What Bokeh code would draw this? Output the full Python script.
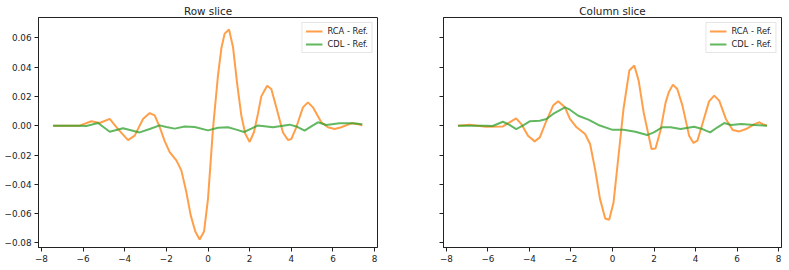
from bokeh.plotting import figure
from bokeh.layouts import row
from bokeh.models import Range1d, FixedTicker, CustomJSTickFormatter
from bokeh.embed import file_html
from bokeh.resources import INLINE

# ---- data ----
row_rca_x = [-7.44, -6.16, -5.6, -5.2, -4.72, -4.32, -3.84, -3.52, -3.12, -2.8, -2.56, -2.32, -2.08, -1.84,
             -1.52, -1.28, -1.04, -0.83, -0.61, -0.40, -0.19, 0.0, 0.24, 0.48, 0.64, 0.80, 1.01, 1.20, 1.41,
             1.60, 1.79, 2.0, 2.21, 2.40, 2.56, 2.84, 3.04, 3.28, 3.6, 3.84, 4.0, 4.24, 4.56, 4.8, 5.04, 5.44,
             5.76, 6.08, 6.4, 6.88, 7.2, 7.41]
row_rca_y = [0, 0, 0.003, 0.0018, 0.0046, -0.0023, -0.0098, -0.0068, 0.0046, 0.0086, 0.007, -0.0009, -0.0105,
             -0.018, -0.0237, -0.0305, -0.0453, -0.0612, -0.0722, -0.0777, -0.0722, -0.0499, -0.002, 0.0344,
             0.0526, 0.0628, 0.0656, 0.0537, 0.0275, 0.007, -0.0055, -0.0111, -0.0043, 0.0082, 0.0200, 0.0273,
             0.025, 0.0125, -0.0046, -0.0098, -0.0091, -0.0011, 0.0125, 0.0159, 0.0125, 0.0023, -0.0011,
             -0.0023, -0.0011, 0.0016, 0.0011, 0]

row_cdl_x = [-7.44, -6.2, -5.84, -5.28, -4.72, -4.08, -3.28, -2.8, -2.32, -2.0, -1.6, -1.12, -0.64, 0.0, 0.48,
             0.96, 1.36, 1.73, 2.08, 2.40, 3.12, 3.92, 4.24, 4.64, 4.96, 5.28, 5.68, 6.32, 6.96, 7.41]
row_cdl_y = [0, 0, -0.0002, 0.0018, -0.0041, -0.0018, -0.0046, -0.0023, 0.0002, -0.0009, -0.002, -0.0005,
             -0.0009, -0.0032, -0.0014, -0.0011, -0.0027, -0.0043, -0.002, 0.0002, -0.0011, 0.0007, -0.0005,
             -0.0034, -0.0005, 0.0023, 0.0005, 0.0016, 0.0016, 0.0009]

col_rca_x = [-7.44, -6.9, -6.09, -5.28, -4.96, -4.64, -4.39, -4.07, -3.75, -3.5, -3.18, -2.86, -2.62, -2.29,
             -2.05, -1.73, -1.32, -1.08, -0.84, -0.6, -0.35, -0.16, 0.05, 0.29, 0.53, 0.81, 1.05, 1.26, 1.5,
             1.88, 2.07, 2.31, 2.56, 2.71, 2.91, 3.12, 3.37, 3.69, 3.9, 4.09, 4.33, 4.65, 4.9, 5.14, 5.46, 5.79,
             6.11, 6.43, 6.84, 7.08, 7.24, 7.44]
col_rca_y = [0, 0.0007, -0.0007, -0.0005, 0.0023, 0.005, 0.0011, -0.0068, -0.0107, -0.008, 0.0034, 0.0137,
             0.0166, 0.0125, 0.0046, -0.0011, -0.0057, -0.0125, -0.0296, -0.0501, -0.0633, -0.0642, -0.0524,
             -0.0205, 0.0114, 0.0376, 0.041, 0.0307, 0.0091, -0.0159, -0.0155, -0.0034, 0.0159, 0.0228, 0.028,
             0.025, 0.0137, -0.0068, -0.0118, -0.0102, 0.0011, 0.0166, 0.0205, 0.0171, 0.0046, -0.0029, -0.0039,
             -0.0023, 0.0011, 0.0023, 0.0011, 0]

col_cdl_x = [-7.44, -6.1, -5.77, -5.28, -4.96, -4.64, -4.32, -3.99, -3.5, -3.18, -2.86, -2.29, -2.05, -1.65,
             -1.16, -0.68, -0.03, 0.53, 1.1, 1.67, 1.99, 2.39, 2.8, 3.28, 3.93, 4.33, 4.7, 5.06, 5.38, 5.71,
             6.19, 6.84, 7.44]
col_cdl_y = [0, 0, -0.0002, 0.0027, 0.0005, -0.0023, 0, 0.003, 0.0034, 0.0046, 0.008, 0.0125, 0.0109, 0.0068,
             0.0041, 0.0005, -0.0027, -0.0027, -0.0041, -0.0064, -0.0046, -0.0011, -0.0011, -0.0023, -0.0007,
             -0.0023, -0.0046, -0.0011, 0.0018, 0.0005, 0.0011, 0.0005, 0]

titles = ["Row slice", "Column slice"]
series_labels = ["RCA - Ref.", "CDL - Ref."]
x_ticks = [-8, -6, -4, -2, 0, 2, 4, 6, 8]
y_ticks = [-0.08, -0.06, -0.04, -0.02, 0.0, 0.02, 0.04, 0.06]

ORANGE = "#ff7f0e"
GREEN = "#2ca02c"
FONT = "DejaVu Sans"
Y0, Y1 = -0.0831, 0.0738
X0, X1 = -8.14, 8.14

xfmt = CustomJSTickFormatter(code="return (tick < 0 ? '\u2212' : '') + Math.abs(tick).toFixed(0);")
yfmt = CustomJSTickFormatter(code="if (Math.abs(tick) < 1e-9) return '0.00'; return (tick < 0 ? '\u2212' : '') + Math.abs(tick).toFixed(2);")
nofmt = CustomJSTickFormatter(code="return '';")


def make_panel(title, rx, ry, cx, cy, width, bl, br, show_ylabels):
    p = figure(width=width, height=268, output_backend="svg", toolbar_location=None,
               x_range=Range1d(X0, X1), y_range=Range1d(Y0, Y1), title=title,
               min_border_left=bl, min_border_right=br, min_border_top=17, min_border_bottom=21)
    p.grid.visible = False
    p.background_fill_color = "white"
    p.border_fill_color = "white"
    p.outline_line_color = "#222222"
    p.outline_line_width = 1
    p.outline_line_alpha = 1

    p.title.align = "center"
    p.title.text_font = FONT
    p.title.text_font_size = "10.4px"
    p.title.text_font_style = "normal"
    p.title.text_color = "#222222"
    p.title.standoff = 1
    p.title.offset = 0

    p.line(rx, ry, line_color=ORANGE, line_alpha=0.75, line_width=2, legend_label=series_labels[0])
    p.line(cx, cy, line_color=GREEN, line_alpha=0.75, line_width=2, legend_label=series_labels[1])

    for ax in (p.xaxis[0], p.yaxis[0]):
        ax.axis_line_color = "#222222"
        ax.major_tick_line_color = "#222222"
        ax.major_tick_out = 4
        ax.major_tick_in = 0
        ax.minor_tick_line_color = None
        ax.major_label_text_font = FONT
        ax.major_label_text_font_size = "8.8px"
        ax.major_label_text_color = "#222222"
        ax.major_label_standoff = 3
    p.xaxis[0].ticker = FixedTicker(ticks=x_ticks)
    p.yaxis[0].ticker = FixedTicker(ticks=y_ticks)
    p.xaxis[0].formatter = xfmt
    p.yaxis[0].formatter = yfmt if show_ylabels else nofmt

    lg = p.legend[0]
    lg.location = "top_right"
    lg.margin = 5
    lg.padding = 3
    lg.spacing = 3
    lg.label_height = 10
    lg.glyph_height = 10
    lg.glyph_width = 17
    lg.label_standoff = 5
    lg.label_text_font = FONT
    lg.label_text_font_size = "8.3px"
    lg.label_text_color = "#222222"
    lg.border_line_color = "#cccccc"
    lg.border_line_width = 1
    lg.background_fill_alpha = 0.8
    return p


p1 = make_panel(titles[0], row_rca_x, row_rca_y, row_cdl_x, row_cdl_y, 400, 38, 23, True)
p2 = make_panel(titles[1], col_rca_x, col_rca_y, col_cdl_x, col_cdl_y, 388, 43, 7, False)

layout = row(p1, p2)
open("out.html", "w").write(file_html(layout, INLINE))
